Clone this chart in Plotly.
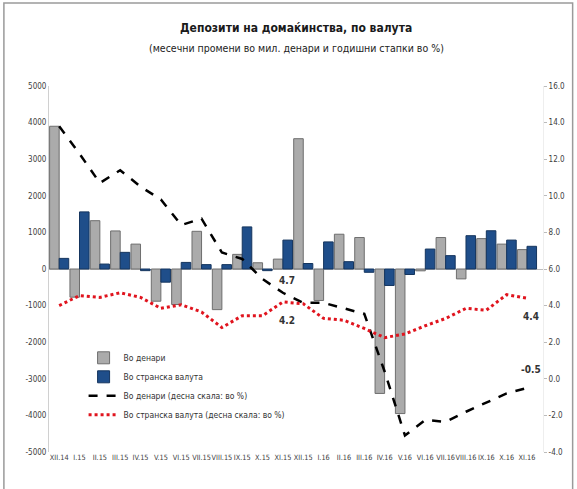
import plotly.graph_objects as go

categories = ["XII.14", "I.15", "II.15", "III.15", "IV.15", "V.15", "VI.15", "VII.15",
              "VIII.15", "IX.15", "X.15", "XI.15", "XII.15", "I.16", "II.16", "III.16",
              "IV.16", "V.16", "VI.16", "VII.16", "VIII.16", "IX.16", "X.16", "XI.16"]

denari_change = [3900, -770, 1320, 1040, 680, -880, -970, 1030,
                 -1110, 400, 170, 270, 3560, -860, 950, 860,
                 -3400, -3950, -50, 860, -270, 830, 680, 530]

foreign_change = [290, 1560, 135, 455, -45, -360, 180, 120,
                  120, 1150, -45, 790, 150, 740, 200, -90,
                  -450, -150, 545, 365, 910, 1045, 790, 620]

denari_growth = [13.8, 12.3, 10.7, 11.4, 10.5, 9.8, 8.4, 8.75,
                 6.9, 6.55, 5.45, 4.7, 4.15, 4.15, 3.85, 3.55,
                 0.4, -3.1, -2.25, -2.35, -1.8, -1.3, -0.8, -0.5]

foreign_growth = [4.0, 4.55, 4.45, 4.7, 4.45, 3.85, 4.05, 3.65,
                  2.8, 3.45, 3.45, 4.2, 4.1, 3.3, 3.2, 2.75,
                  2.25, 2.45, 2.9, 3.3, 3.85, 3.75, 4.6, 4.4]

left_ticks = list(range(-5000, 5001, 1000))
right_ticks = [-4, -2, 0, 2, 4, 6, 8, 10, 12, 14, 16]

title_text = "Депозити на домаќинства, по валута"
subtitle_text = "(месечни промени во мил. денари и годишни стапки во %)"

FONT = "DejaVu Sans Condensed, Liberation Sans Narrow, sans-serif"
TICK_COLOR = "#404040"

fig = go.Figure()
fig.add_trace(go.Bar(
    x=categories, y=denari_change, name="Во денари",
    marker=dict(color="#ABABAB", line=dict(color="#6E6E6E", width=1)),
    yaxis="y",
))
fig.add_trace(go.Bar(
    x=categories, y=foreign_change, name="Во странска валута",
    marker=dict(color="#1F4E8A", line=dict(color="#15355E", width=1)),
    yaxis="y",
))
fig.add_trace(go.Scatter(
    x=categories, y=denari_growth, name="Во денари (десна скала: во %)",
    mode="lines", line=dict(color="black", width=2.5, dash="dash"),
    yaxis="y2",
))
fig.add_trace(go.Scatter(
    x=categories, y=foreign_growth, name="Во странска валута (десна скала: во %)",
    mode="lines", line=dict(color="#E0141E", width=3, dash="dot"),
    yaxis="y2",
))

labels = [
    (categories[11], denari_growth[11], "4.7", 12),
    (categories[11], foreign_growth[11], "4.2", -19),
    (categories[23], foreign_growth[23], "4.4", -18),
    (categories[23], denari_growth[23], "-0.5", 18),
]
annotations = []
for cx, cy, txt, dy in labels:
    annotations.append(dict(
        x=cx, y=cy, xref="x", yref="y2", text="<b>" + txt + "</b>",
        showarrow=False, yshift=dy, xshift=4,
        font=dict(family=FONT, size=10, color="#333333"),
    ))
annotations.append(dict(
    x=0.50, y=1.158, xref="paper", yref="paper", text="<b>" + title_text + "</b>",
    showarrow=False, xanchor="center", yanchor="middle",
    font=dict(family=FONT, size=12, color="#1a1a1a"),
))
annotations.append(dict(
    x=0.50, y=1.104, xref="paper", yref="paper", text=subtitle_text,
    showarrow=False, xanchor="center", yanchor="middle",
    font=dict(family=FONT, size=10.5, color="#222222"),
))

fig.update_layout(
    width=577, height=489,
    paper_bgcolor="white", plot_bgcolor="white",
    margin=dict(l=49, r=24, t=86, b=37),
    barmode="group", bargap=0.06, bargroupgap=0.0,
    showlegend=True,
    legend=dict(
        x=0.07, y=0.297, xanchor="left", yanchor="top",
        font=dict(family=FONT, size=8.5, color="#333333"),
        bgcolor="rgba(0,0,0,0)", tracegroupgap=0, itemwidth=30,
    ),
    xaxis=dict(
        type="category", tickfont=dict(family=FONT, size=7.3, color=TICK_COLOR),
        tickangle=0, showgrid=False, showline=False, ticks="", zeroline=False,
    ),
    yaxis=dict(
        range=[-5000, 5000], tickvals=left_ticks, ticktext=[str(v) for v in left_ticks],
        tickfont=dict(family=FONT, size=8, color=TICK_COLOR),
        showgrid=False, zeroline=True, zerolinecolor="#BFBFBF", zerolinewidth=1,
        showline=True, linecolor="#D0D0D0", linewidth=1, ticks="",
    ),
    yaxis2=dict(
        range=[-4, 16], tickvals=right_ticks, ticktext=[f"{v:.1f}" for v in right_ticks],
        overlaying="y", side="right",
        tickfont=dict(family=FONT, size=8, color=TICK_COLOR),
        showgrid=False, zeroline=False,
        showline=True, linecolor="#EEEEEE", linewidth=1,
        ticks="outside", ticklen=3, tickcolor="#BBBBBB",
    ),
    annotations=annotations,
    shapes=[dict(type="rect", xref="paper", yref="paper", x0=-0.0913, x1=1.06, y0=-0.12, y1=1.2268,
                 line=dict(color="#9A9A9A", width=1.5))],
)

fig.write_html("out.html", config={"displayModeBar": False},
               post_script="document.body.style.margin='0';")
